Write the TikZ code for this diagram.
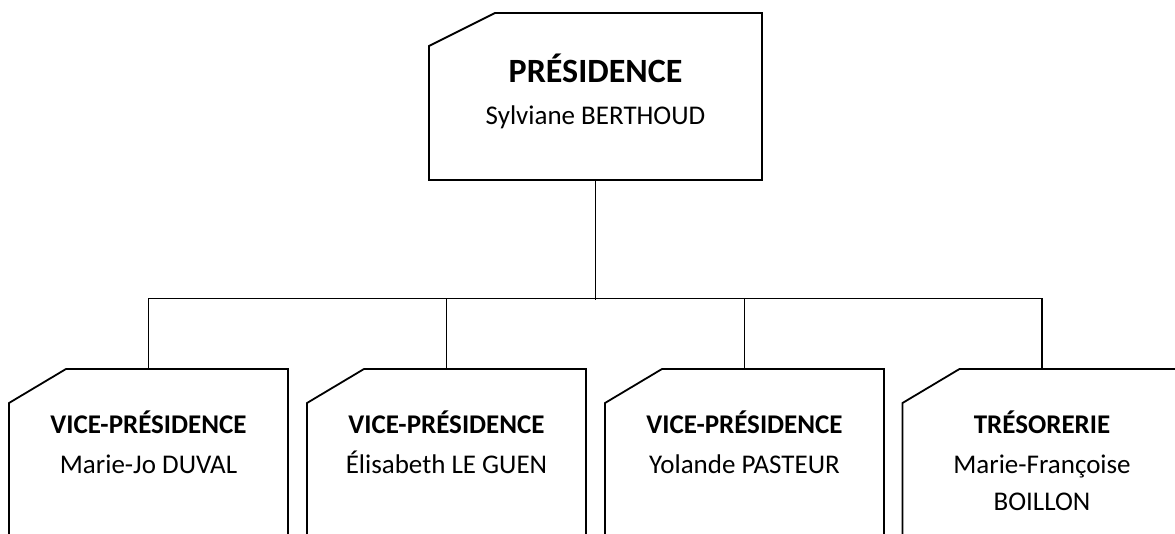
\documentclass[tikz,border=0pt]{standalone}
\usepackage{fontspec}
\setmainfont{Carlito}
\begin{document}
\begin{tikzpicture}[x=1pt,y=-1pt,
  line width=1.8pt,
  boxframe/.style={inner sep=0pt, outer sep=0pt, minimum width=279pt, minimum height=191pt},
  topframe/.style={inner sep=0pt, outer sep=0pt, minimum width=333pt, minimum height=167pt},
  titletop/.style={font=\fontsize{34}{40}\selectfont\bfseries, anchor=base, inner sep=0pt},
  title/.style={font=\fontsize{27}{32}\selectfont\bfseries, anchor=base, inner sep=0pt},
  person/.style={font=\fontsize{27}{32}\selectfont, anchor=base, inner sep=0pt},
  link/.style={draw=black, line width=1.8pt}
]
\useasboundingbox (0,0) rectangle (1175,534);
\clip (0,0) rectangle (1175,534);

% top box
\node[topframe] (pres) at (595.5,96.5) {};
\draw ([xshift=66pt]pres.north west) -- (pres.north east) -- (pres.south east)
  -- (pres.south west) -- ([yshift=-33pt]pres.north west) -- cycle;
\node[titletop] (presT) at (595.5,83) {PRÉSIDENCE};
\node[person] (presN) at (595.5,125) {Sylviane BERTHOUD};

% bottom boxes
\foreach \n/\cx in {v1/148.5, v2/446.5, v3/744.5, tr/1042} {
  \node[boxframe] (\n) at (\cx,464.5) {};
  \draw (\n.south west) -- ([yshift=-34pt]\n.north west) -- ([xshift=57pt]\n.north west)
    -- (\n.north east) -- (\n.south east);
}
\node[title] (v1T) at (148.5,433) {VICE-PRÉSIDENCE};
\node[person] (v1N) at (148.5,473) {Marie-Jo DUVAL};
\node[title] (v2T) at (446.5,433) {VICE-PRÉSIDENCE};
\node[person] (v2N) at (446.5,473) {Élisabeth LE GUEN};
\node[title] (v3T) at (744.5,433) {VICE-PRÉSIDENCE};
\node[person] (v3N) at (744.5,473) {Yolande PASTEUR};
\node[title] (trT) at (1042,433) {TRÉSORERIE};
\node[person] (trN) at (1042,473) {Marie-Françoise};
\node[person] (trN2) at (1042,510) {BOILLON};

% connectors
\coordinate (bus) at (595.5,298.5);
\draw[link] (pres.south) -- ([yshift=-2pt]pres.south |- bus);
\draw[link] (v1.north |- bus) -- (tr.north |- bus);
\foreach \n in {v1,v2,v3,tr} {
  \draw[link] (\n.north |- bus) -- (\n.north);
}
\end{tikzpicture}
\end{document}
